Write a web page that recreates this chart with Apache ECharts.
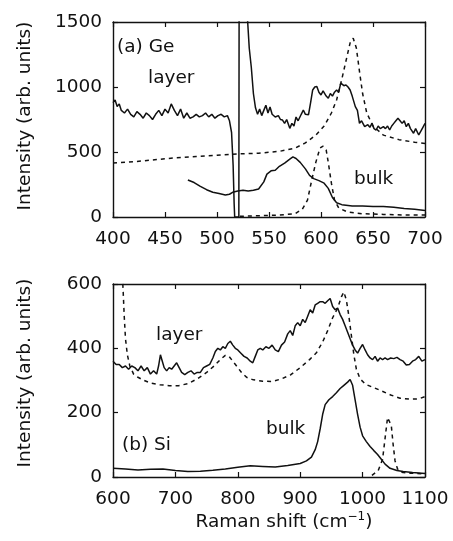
<!DOCTYPE html>
<html>
<head>
<meta charset="utf-8">
<script src="https://cdn.jsdelivr.net/npm/echarts@6/dist/echarts.min.js"></script>
<style>
  html, body { margin: 0; padding: 0; background: #fff; }
  #chart { width: 453px; height: 541px; }
</style>
</head>
<body>
<div id="chart"></div>
<script>
// tick values
const geTicksX = [400, 450, 500, 550, 600, 650, 700];
const geTicksY = [0, 500, 1000, 1500];
const siTicksX = [600, 700, 800, 900, 1000, 1100];
const siTicksY = [0, 200, 400, 600];

// (a) Ge, layer spectrum (solid)
const geLayer = [
  [400, 880], [402, 900], [404, 850], [406, 870], [408, 820], [411, 800], [414, 830], [417, 790],
  [420, 770], [423, 810], [426, 790], [429, 760], [432, 800], [435, 780], [438, 750], [441, 790],
  [444, 820], [447, 780], [450, 830], [453, 800], [456, 870], [459, 820], [462, 780], [465, 830],
  [468, 760], [471, 800], [474, 760], [477, 770], [480, 790], [483, 770], [486, 780], [489, 800],
  [492, 770], [495, 790], [498, 760], [501, 780], [504, 790], [507, 770], [510, 780], [512, 740],
  [514, 650], [515.5, 400], [516.5, 100], [517, 0], [521, 0], [521.5, 3000], [526, 2200],
  [529.5, 1500], [531, 1300], [533, 1150], [535, 950], [537, 840], [539, 790], [541, 830],
  [543, 780], [545, 820], [547, 860], [549, 800], [551, 846], [553, 790], [556, 769], [559, 780],
  [561, 750], [563, 746], [565, 720], [567, 750], [570, 682], [572, 720], [574, 700], [576, 769],
  [578, 740], [581, 790], [583, 823], [585, 790], [588, 787], [590, 880], [592, 977], [594, 1000],
  [596, 1003], [598, 960], [600, 939], [602, 970], [605, 930], [607, 913], [609, 950], [611, 930],
  [613, 960], [615, 977], [617, 960], [619, 1030], [620, 1041], [622, 1010], [624, 1016],
  [626, 1000], [628, 977], [630, 930], [633, 849], [635, 820], [637, 721], [639, 740], [642, 695],
  [645, 710], [647, 690], [649, 720], [651, 680], [653, 669], [655, 700], [657, 680], [660, 695],
  [662, 680], [664, 700], [666, 669], [668, 700], [670, 720], [672, 740], [674, 759], [676, 740],
  [678, 720], [680, 740], [682, 695], [684, 720], [686, 680], [689, 644], [691, 680], [694, 631],
  [696, 660], [698, 690], [700, 720]
];
// (a) Ge, layer calculation (dashed)
const geLayerCalc = [
  [400, 415], [420, 425], [440, 440], [460, 455], [480, 465], [500, 475], [520, 485], [540, 490],
  [560, 505], [575, 530], [585, 570], [595, 630], [603, 700], [610, 800], [615, 900], [620, 1060],
  [624, 1200], [628, 1340], [631, 1375], [634, 1300], [637, 1120], [640, 950], [644, 800],
  [650, 700], [660, 630], [675, 595], [690, 575], [700, 565]
];
// (a) Ge, bulk spectrum (solid)
const geBulk = [
  [472, 285], [478, 265], [484, 235], [490, 210], [496, 190], [502, 180], [508, 170], [512, 175],
  [515, 190], [520, 200], [525, 205], [530, 200], [535, 205], [540, 215], [545, 270], [548, 330],
  [552, 355], [556, 360], [560, 390], [565, 415], [570, 445], [573, 462], [576, 450], [580, 420],
  [585, 370], [589, 320], [593, 295], [598, 280], [603, 260], [607, 220], [611, 150], [615, 110],
  [620, 95], [630, 85], [640, 85], [650, 80], [660, 80], [670, 75], [680, 65], [690, 60], [700, 50]
];
// (a) Ge, bulk calculation (dashed)
const geBulkCalc = [
  [522, 5], [540, 10], [560, 15], [575, 25], [582, 60], [587, 130], [591, 280], [595, 420],
  [599, 530], [602, 545], [605, 515], [607, 420], [610, 260], [613, 130], [617, 70], [625, 40],
  [640, 25], [660, 20], [680, 15], [700, 15]
];

// (b) Si, layer spectrum (solid)
const siLayer = [
  [600, 360], [605, 350], [610, 350], [615, 340], [620, 345], [625, 335], [630, 345], [635, 340],
  [640, 330], [645, 345], [650, 330], [655, 340], [660, 320], [665, 330], [670, 320], [673, 345],
  [676, 380], [679, 360], [682, 340], [686, 330], [690, 340], [694, 335], [698, 345], [702, 355],
  [706, 340], [710, 325], [715, 318], [720, 325], [725, 330], [730, 320], [735, 325], [740, 325],
  [745, 340], [750, 345], [755, 350], [760, 370], [764, 390], [768, 400], [772, 395], [776, 405],
  [780, 400], [784, 415], [788, 422], [792, 410], [796, 400], [800, 395], [805, 385], [810, 375],
  [815, 370], [820, 360], [824, 355], [828, 375], [832, 395], [836, 400], [840, 395], [845, 405],
  [850, 400], [855, 410], [860, 395], [865, 390], [870, 410], [875, 420], [880, 445], [884, 455],
  [888, 440], [892, 470], [896, 480], [900, 470], [904, 490], [908, 480], [912, 500], [916, 520],
  [920, 510], [924, 535], [928, 540], [932, 545], [936, 545], [940, 540], [944, 548], [948, 555],
  [952, 530], [956, 520], [960, 525], [964, 505], [968, 490], [972, 470], [976, 450], [980, 430],
  [984, 410], [988, 395], [992, 385], [996, 400], [1000, 412], [1004, 395], [1008, 380],
  [1012, 370], [1016, 365], [1020, 375], [1024, 360], [1028, 370], [1032, 365], [1036, 370],
  [1040, 365], [1045, 370], [1050, 368], [1055, 372], [1060, 365], [1065, 360], [1070, 348],
  [1075, 350], [1080, 360], [1085, 365], [1090, 375], [1095, 360], [1100, 365]
];
// (b) Si, layer calculation (dashed)
const siLayerCalc = [
  [614, 650], [616, 590], [618, 500], [620, 430], [623, 380], [627, 345], [633, 320], [640, 310],
  [650, 300], [660, 292], [675, 287], [690, 284], [705, 284], [720, 290], [735, 305], [750, 325],
  [762, 345], [772, 365], [780, 378], [786, 375], [792, 360], [798, 345], [806, 325], [814, 310],
  [825, 302], [840, 298], [855, 297], [870, 305], [885, 318], [900, 340], [915, 365], [926, 386],
  [936, 420], [944, 455], [952, 495], [960, 525], [966, 560], [970, 575], [974, 550], [978, 500],
  [982, 440], [986, 380], [990, 335], [996, 305], [1005, 288], [1015, 280], [1030, 268],
  [1045, 255], [1060, 245], [1075, 242], [1090, 243], [1100, 250]
];
// (b) Si, bulk spectrum (solid)
const siBulk = [
  [600, 27], [620, 25], [640, 22], [660, 24], [680, 25], [700, 20], [720, 17], [740, 18],
  [760, 21], [780, 25], [800, 30], [820, 35], [840, 33], [860, 31], [880, 36], [900, 42],
  [910, 50], [918, 62], [924, 85], [928, 110], [932, 150], [936, 195], [940, 225], [946, 240],
  [952, 250], [958, 262], [964, 275], [970, 285], [976, 295], [980, 303], [984, 285], [988, 240],
  [992, 195], [996, 155], [1000, 128], [1006, 110], [1012, 95], [1018, 82], [1024, 70],
  [1030, 55], [1036, 40], [1044, 27], [1055, 20], [1065, 17], [1080, 14], [1100, 11]
];
// (b) Si, bulk calculation (dashed)
const siBulkCalc = [
  [1015, 5], [1025, 20], [1032, 55], [1036, 120], [1040, 185], [1043, 190], [1046, 160],
  [1049, 100], [1052, 50], [1056, 25], [1062, 15], [1075, 12], [1100, 10]
];

const FONT = 'DejaVu Sans';
const FS = 18.5;
const INK = '#111';

function axisFor(grid, ticks, pos) {
  const shown = pos === 'bottom' || pos === 'left';
  const vertical = pos === 'left' || pos === 'right';
  return {
    type: 'value', gridIndex: grid, position: pos,
    min: ticks[0], max: ticks[ticks.length - 1], interval: ticks[1] - ticks[0],
    axisLine: { show: true, onZero: false, lineStyle: { color: INK, width: 1.4 } },
    axisTick: { show: true, inside: true, length: 5, lineStyle: { color: INK, width: 1.2 } },
    axisLabel: {
      show: shown, margin: vertical ? 11 : 13, color: INK,
      fontFamily: FONT, fontSize: FS,
      formatter: (v) => String(v)
    },
    splitLine: { show: false }
  };
}

function curve(data, xi, yi, dashed) {
  return {
    type: 'line', data: data, xAxisIndex: xi, yAxisIndex: yi,
    showSymbol: false, symbol: 'none', clip: true, silent: true,
    lineStyle: { color: INK, width: 1.5, type: dashed ? [4, 4] : 'solid' }
  };
}

function label(text, x, y, rotation, align) {
  return {
    type: 'text', x: x, y: y, rotation: rotation || 0, silent: true,
    style: {
      text: text, fill: INK, fontFamily: FONT, fontSize: FS,
      align: align || 'left', verticalAlign: 'middle'
    }
  };
}

const chart = echarts.init(document.getElementById('chart'), null, { renderer: 'canvas' });

chart.setOption({
  animation: false,
  backgroundColor: '#fff',
  grid: [
    { left: 113, right: 28, top: 22, height: 195 },
    { left: 113, right: 28, top: 284, height: 193 }
  ],
  xAxis: [
    axisFor(0, geTicksX, 'bottom'),
    axisFor(0, geTicksX, 'top'),
    axisFor(1, siTicksX, 'bottom'),
    axisFor(1, siTicksX, 'top')
  ],
  yAxis: [
    axisFor(0, geTicksY, 'left'),
    axisFor(0, geTicksY, 'right'),
    axisFor(1, siTicksY, 'left'),
    axisFor(1, siTicksY, 'right')
  ],
  series: [
    curve(geLayer, 0, 0, false),
    curve(geLayerCalc, 0, 0, true),
    curve(geBulk, 0, 0, false),
    curve(geBulkCalc, 0, 0, true),
    curve(siLayer, 2, 2, false),
    curve(siLayerCalc, 2, 2, true),
    curve(siBulk, 2, 2, false),
    curve(siBulkCalc, 2, 2, true)
  ],
  graphic: [
    label('(a) Ge', 117, 47),
    label('layer', 148, 78),
    label('bulk', 354, 179),
    label('layer', 156, 335),
    label('(b) Si', 122, 445),
    label('bulk', 266, 429),
    label('Intensity (arb. units)', 25, 116, Math.PI / 2, 'center'),
    label('Intensity (arb. units)', 25, 373, Math.PI / 2, 'center'),
    {
      type: 'text', x: 284, y: 522, silent: true,
      style: {
        text: '{a|Raman shift (cm}{s|−1}{a|)}',
        align: 'center', verticalAlign: 'middle',
        rich: {
          a: { fontFamily: FONT, fontSize: FS, fill: INK, lineHeight: 22 },
          s: { fontFamily: FONT, fontSize: 12, fill: INK, verticalAlign: 'top', lineHeight: 14 }
        }
      }
    }
  ]
});
</script>
</body>
</html>
